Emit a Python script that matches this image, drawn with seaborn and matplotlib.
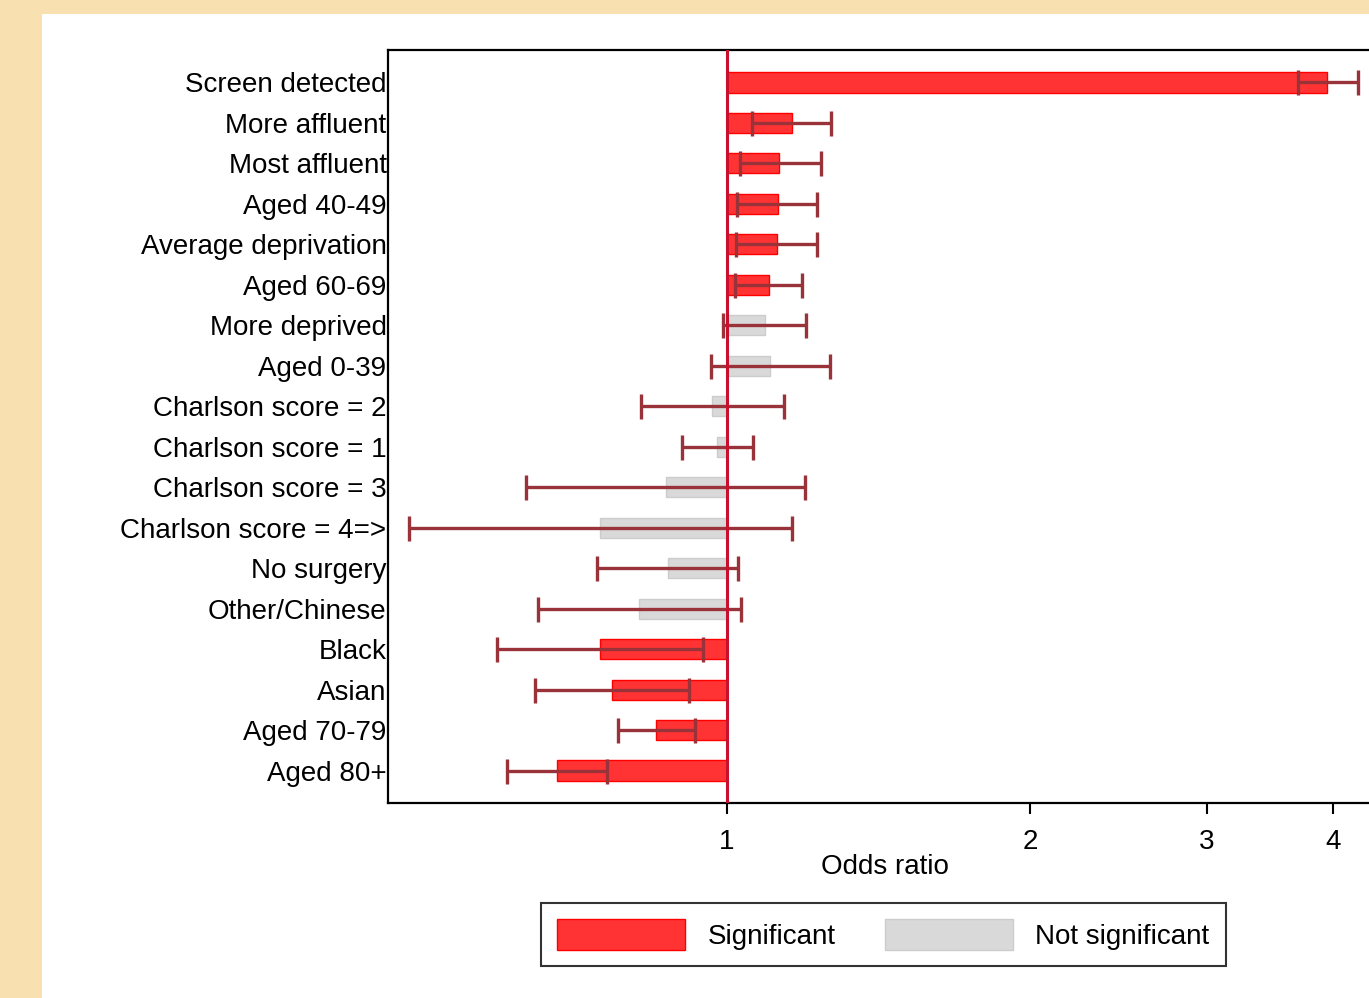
import numpy as np
import pandas as pd
import seaborn as sns
import matplotlib.pyplot as plt
from matplotlib.patches import Rectangle, Patch
from matplotlib.ticker import FixedLocator, FixedFormatter, NullLocator

sns.set_style('white')
plt.rcParams['font.family'] = ['Liberation Sans', 'DejaVu Sans']
plt.rcParams['text.color'] = 'black'
plt.rcParams['xtick.color'] = 'black'
plt.rcParams['ytick.color'] = 'black'
plt.rcParams['axes.labelcolor'] = 'black'

# odds ratios with 95% CI
labels = ['Screen detected', 'More affluent', 'Most affluent', 'Aged 40-49',
          'Average deprivation', 'Aged 60-69', 'More deprived', 'Aged 0-39',
          'Charlson score = 2', 'Charlson score = 1', 'Charlson score = 3',
          'Charlson score = 4=>', 'No surgery', 'Other/Chinese', 'Black',
          'Asian', 'Aged 70-79', 'Aged 80+']
odds = [3.95, 1.16, 1.126, 1.124, 1.121, 1.10, 1.091, 1.103, 0.966, 0.977,
        0.870, 0.748, 0.874, 0.818, 0.748, 0.769, 0.850, 0.678]
ci_low = [3.69, 1.06, 1.03, 1.023, 1.021, 1.018, 0.991, 0.964, 0.821, 0.902,
          0.631, 0.483, 0.743, 0.649, 0.591, 0.645, 0.779, 0.604]
ci_high = [4.24, 1.27, 1.24, 1.23, 1.229, 1.187, 1.198, 1.266, 1.139, 1.061,
           1.195, 1.16, 1.025, 1.033, 0.947, 0.917, 0.929, 0.760]
signif = ['Significant'] * 6 + ['Not significant'] * 8 + ['Significant'] * 4

df = pd.DataFrame({'label': labels, 'odds': odds, 'lo': ci_low, 'hi': ci_high, 'sig': signif})
df['y'] = np.arange(len(df))

fill = {'Significant': '#FF3333', 'Not significant': '#D9D9D9'}
edge = {'Significant': '#FF0000', 'Not significant': '#CCCCCC'}

fig = plt.figure(figsize=(13.69, 9.98), dpi=100)
fig.patch.set_facecolor('#F9E0B0')
fig.patches.append(Rectangle((42 / 1369, 0), 1, 1 - 14 / 998, transform=fig.transFigure,
                             facecolor='white', edgecolor='none', zorder=-5))

ax = fig.add_axes([388 / 1369, 1 - 803 / 998, (1369 - 388) / 1369, (803 - 50) / 998])
ax.set_zorder(2)
ax.set_facecolor('white')
ax.set_xscale('log')

for sig, sub in df.groupby('sig'):
    ax.barh(sub['y'], sub['odds'] - 1, left=1, height=0.5, color=fill[sig],
            edgecolor=edge[sig], linewidth=1, zorder=2)

ax.errorbar(df['odds'], df['y'], xerr=[df['odds'] - df['lo'], df['hi'] - df['odds']],
            fmt='none', ecolor='#993339', elinewidth=2.4, capsize=9, capthick=2.4, zorder=3)

ax.axvline(1, color='#C8102E', linewidth=2.2, zorder=4)

ax.set_xlim(0.4604, 4.345)
ax.set_ylim(17.8, -0.8)
ax.set_yticks(df['y'])
ax.set_yticklabels(df['label'], fontsize=20)
ax.tick_params(axis='y', length=0, pad=1)

ax.xaxis.set_major_locator(FixedLocator([1, 2, 3, 4]))
ax.xaxis.set_major_formatter(FixedFormatter(['1', '2', '3', '4']))
ax.xaxis.set_minor_locator(NullLocator())
ax.tick_params(axis='x', length=8, width=1.5, direction='out', labelsize=20, pad=11,
               bottom=True, color='black')
ax.set_xlabel('Odds ratio', fontsize=20)
ax.xaxis.set_label_coords((885 - 388) / 981, -0.068)

for side in ['left', 'top', 'bottom']:
    ax.spines[side].set_color('black')
    ax.spines[side].set_linewidth(1.6)
ax.spines['right'].set_visible(False)

handles = [Patch(facecolor=fill[k], edgecolor=edge[k], label=k) for k in ['Significant', 'Not significant']]
leg = fig.legend(handles=handles, loc='center', bbox_to_anchor=(883.5 / 1369, 1 - 934.5 / 998),
                 ncol=2, fontsize=20, frameon=True, fancybox=False, handlelength=4.6,
                 handleheight=1.3, handletextpad=0.8, columnspacing=1.8, borderpad=0.6)
leg.get_frame().set_edgecolor('black')
leg.get_frame().set_linewidth(1.5)

plt.savefig('out.png', dpi=100, facecolor=fig.get_facecolor())
